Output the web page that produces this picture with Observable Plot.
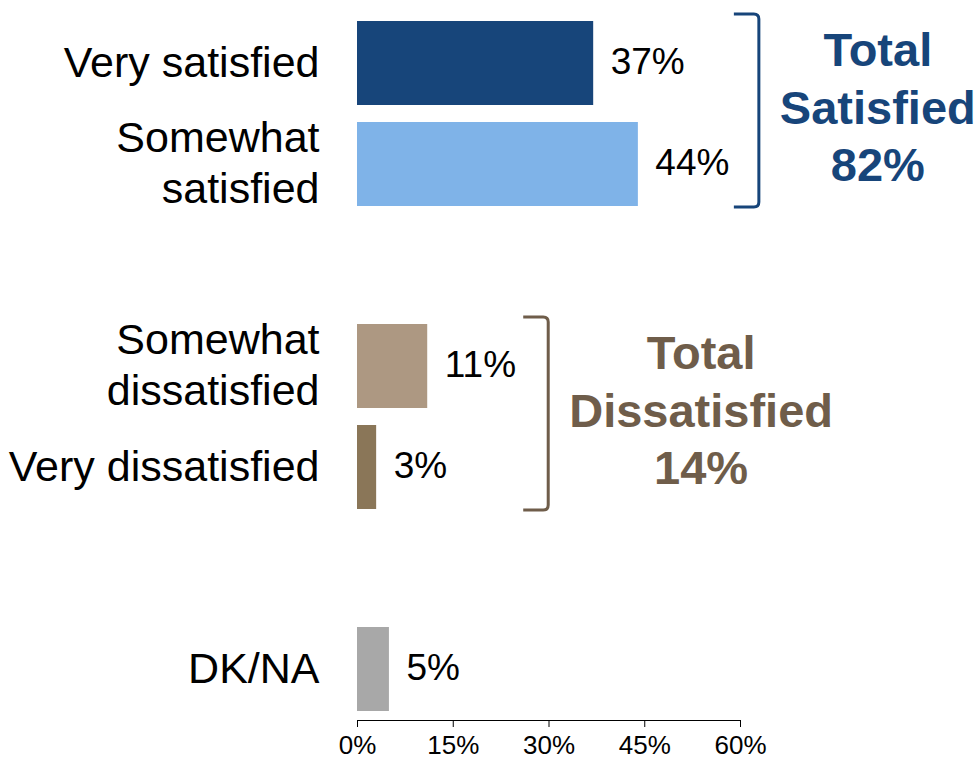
<!DOCTYPE html>
<html>
<head>
<meta charset="utf-8">
<script src="https://cdn.jsdelivr.net/npm/d3@7"></script>
<script src="https://cdn.jsdelivr.net/npm/@observablehq/plot@0.6"></script>
<style>
  html, body { margin: 0; padding: 0; background: #fff; }
  #chart svg { display: block; }
</style>
</head>
<body>
<div id="chart"></div>
<script>
// ---- data ----
const categories = ["Very satisfied", "Somewhat satisfied", "Somewhat dissatisfied", "Very dissatisfied", "DK/NA"];
const categoryLabels = ["Very satisfied", "Somewhat\nsatisfied", "Somewhat\ndissatisfied", "Very dissatisfied", "DK/NA"];
const values = [37, 44, 11, 3, 5];
const barColors = ["#17457A", "#7FB3E8", "#AD9882", "#8A7658", "#A8A8A8"];
const rowOrder = ["Very satisfied", "Somewhat satisfied", "gap1", "Somewhat dissatisfied", "Very dissatisfied", "gap2", "DK/NA"];
const totalNames = ["Total\nSatisfied", "Total\nDissatisfied"];
const totalValues = [82, 14];
const totalMembers = [["Very satisfied", "Somewhat satisfied"], ["Somewhat dissatisfied", "Very dissatisfied"]];
const totalColors = ["#17457A", "#6F5D4A"];
const xTicks = [0, 15, 30, 45, 60];

const rows = categories.map((c, i) => ({category: c, label: categoryLabels[i], value: values[i], color: barColors[i]}));
const totals = totalNames.map((n, i) => ({name: n, value: totalValues[i], members: totalMembers[i], color: totalColors[i]}));

const FONT = "'Liberation Sans', Arial, Helvetica, sans-serif";

function bracketMark(index, scales) {
  const x = scales.x, y = scales.y;
  const bw = typeof y.bandwidth === "function" ? y.bandwidth() : y.bandwidth;
  const g = d3.create("svg:g");
  const canvas = document.createElement("canvas").getContext("2d");
  canvas.font = `bold 47px ${FONT}`;
  for (const t of totals) {
    const top = y(t.members[0]) - 7;
    const bottom = y(t.members[t.members.length - 1]) + bw + 1;
    const xmax = x(d3.max(rows.filter(r => t.members.includes(r.category)), r => r.value));
    const x0 = xmax + 96, x1 = xmax + 121, r = 5;
    g.append("path")
      .attr("d", `M${x0},${top}H${x1 - r}Q${x1},${top} ${x1},${top + r}V${bottom - r}Q${x1},${bottom} ${x1 - r},${bottom}H${x0}`)
      .attr("fill", "none")
      .attr("stroke", t.color)
      .attr("stroke-width", 3);
    const lines = [...t.name.split("\n"), t.value + "%"];
    const maxW = d3.max(lines, l => canvas.measureText(l).width);
    const cx = x1 + 21 + maxW / 2;
    const cy = (top + bottom) / 2;
    const lh = 57.5;
    const text = g.append("text")
      .attr("text-anchor", "middle")
      .attr("font-family", FONT)
      .attr("font-weight", "bold")
      .attr("font-size", 47)
      .attr("fill", t.color);
    lines.forEach((l, i) => {
      text.append("tspan")
        .attr("x", cx)
        .attr("y", cy + (i - (lines.length - 1) / 2) * lh + 13)
        .text(l);
    });
  }
  return g.node();
}

const chart = Plot.plot({
  width: 979,
  height: 761,
  marginLeft: 357,
  marginRight: 239,
  marginTop: 11,
  marginBottom: 41,
  style: {fontFamily: FONT, fontSize: "26px", color: "#000", background: "#fff"},
  x: {
    domain: [0, 60],
    ticks: xTicks,
    tickFormat: d => d + "%",
    tickSize: 7,
    tickPadding: 8,
    label: null,
    line: true
  },
  y: {
    domain: rowOrder,
    paddingInner: 0.17,
    paddingOuter: 0.09,
    axis: null
  },
  marks: [
    Plot.barX(rows, {y: "category", x: "value", fill: "color"}),
    Plot.text(rows, {y: "category", x: 0, text: "label", textAnchor: "end", dx: -38, dy: -3, fontSize: 43, lineHeight: 1.17, fill: "#000"}),
    Plot.text(rows, {y: "category", x: "value", text: d => d.value + "%", textAnchor: "start", dx: 17, dy: -1, fontSize: 37, fill: "#000"}),
    bracketMark
  ]
});
document.getElementById("chart").appendChild(chart);
</script>
</body>
</html>
